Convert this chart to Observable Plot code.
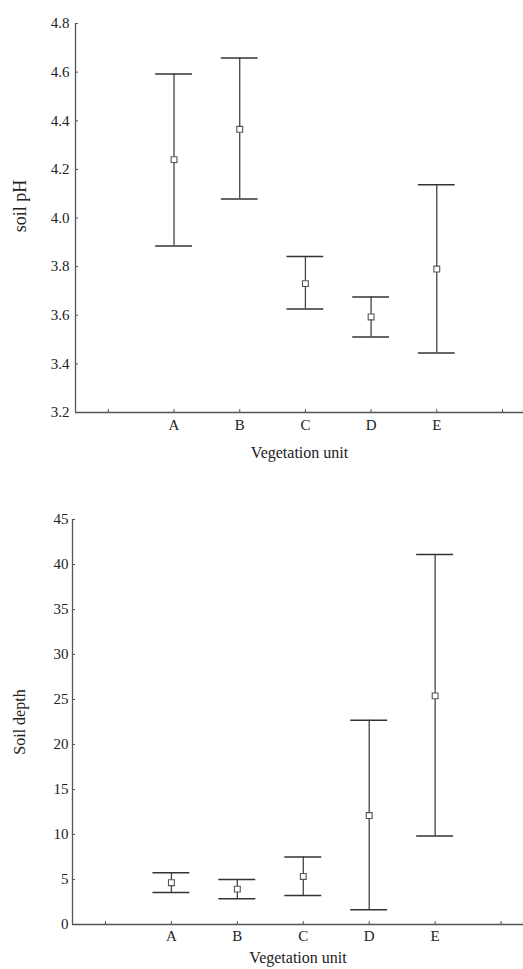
<!DOCTYPE html>
<html>
<head>
<meta charset="utf-8">
<script src="https://cdn.jsdelivr.net/npm/d3@7"></script>
<script src="https://cdn.jsdelivr.net/npm/@observablehq/plot@0.6"></script>
<style>
  html, body { margin: 0; padding: 0; background: #fff; }
  #charts { width: 523px; }
  #charts svg { display: block; }
</style>
</head>
<body>
<div id="charts"></div>
<script>
// ---- data ----
const categories = ["A", "B", "C", "D", "E"];
const xTickLabels = ["", "A", "B", "C", "D", "E", ""];

const phMean = [4.24, 4.365, 3.73, 3.593, 3.79];
const phLow  = [3.885, 4.078, 3.626, 3.511, 3.445];
const phHigh = [4.592, 4.658, 3.842, 3.675, 4.137];
const phTicks = [3.2, 3.4, 3.6, 3.8, 4.0, 4.2, 4.4, 4.6, 4.8];

const depthMean = [4.64, 3.93, 5.34, 12.1, 25.4];
const depthLow  = [3.56, 2.86, 3.23, 1.63, 9.82];
const depthHigh = [5.75, 5.0, 7.49, 22.7, 41.1];
const depthTicks = [0, 5, 10, 15, 20, 25, 30, 35, 40, 45];

const xLabel = "Vegetation unit";

// ---- chart builder ----
const FONT = "'Liberation Serif', 'Times New Roman', serif";
const tickPositions = xTickLabels.map((_, i) => i + 1);
const CAP = 0.28;

function chart({mean, low, high, yTicks, yFmt, yLabel, height, marginTop, marginBottom, marginLeft,
                xMax, yTickPad, xTickPad, yLabelDx, yLabelDy, yLabelSize, xLabelDy}) {
  const rows = categories.map((c, i) => ({cat: c, pos: i + 2, mean: mean[i], low: low[i], high: high[i]}));
  const yMin = yTicks[0], yMax = yTicks[yTicks.length - 1];
  return Plot.plot({
    width: 523,
    height,
    marginTop, marginBottom, marginLeft, marginRight: 0,
    style: {fontFamily: FONT, background: "#fff", color: "#222"},
    x: {type: "linear", domain: [0.5, xMax]},
    y: {domain: [yMin, yMax]},
    marks: [
      Plot.ruleX([0.5], {stroke: "#555", strokeWidth: 1.3}),
      Plot.ruleY([yMin], {stroke: "#555", strokeWidth: 1.3}),
      Plot.axisX({ticks: tickPositions, tickFormat: v => xTickLabels[v - 1], tickSize: -3,
                  tickPadding: xTickPad, label: null, fontSize: 15, stroke: "#555"}),
      Plot.axisY({ticks: yTicks, tickFormat: yFmt, tickSize: -3, tickPadding: yTickPad,
                  label: null, fontSize: 15, stroke: "#555"}),
      // vertical whiskers
      Plot.ruleX(rows, {x: "pos", y1: "low", y2: "high", stroke: "#444", strokeWidth: 1.3}),
      // caps
      Plot.ruleY(rows, {y: "high", x1: d => d.pos - CAP, x2: d => d.pos + CAP, stroke: "#333", strokeWidth: 1.5}),
      Plot.ruleY(rows, {y: "low", x1: d => d.pos - CAP, x2: d => d.pos + CAP, stroke: "#333", strokeWidth: 1.5}),
      // mean markers
      Plot.dot(rows, {x: "pos", y: "mean", symbol: "square", r: 3.3, fill: "#fff", stroke: "#555", strokeWidth: 1.1}),
      // axis titles
      Plot.text([xLabel], {frameAnchor: "bottom", lineAnchor: "top", textAnchor: "middle", dy: xLabelDy, fontSize: 16, fill: "#222"}),
      Plot.text([yLabel], {frameAnchor: "left", lineAnchor: "top", textAnchor: "middle", rotate: -90, dx: yLabelDx, dy: yLabelDy,
                           fontSize: yLabelSize, fill: "#222"})
    ]
  });
}

const root = document.getElementById("charts");
root.appendChild(chart({
  mean: phMean, low: phLow, high: phHigh, yTicks: phTicks, yFmt: d3.format(".1f"), yLabel: "soil pH",
  height: 480, marginTop: 23, marginBottom: 68, marginLeft: 75, xMax: 7.32,
  yTickPad: 9, xTickPad: 10, yLabelDx: -62, yLabelDy: -12, yLabelSize: 18, xLabelDy: 34
}));
root.appendChild(chart({
  mean: depthMean, low: depthLow, high: depthHigh, yTicks: depthTicks, yFmt: d3.format("d"), yLabel: "Soil depth",
  height: 489, marginTop: 39, marginBottom: 45, marginLeft: 72, xMax: 7.34,
  yTickPad: 7, xTickPad: 9, yLabelDx: -59, yLabelDy: 0, yLabelSize: 16, xLabelDy: 27
}));
</script>
</body>
</html>
